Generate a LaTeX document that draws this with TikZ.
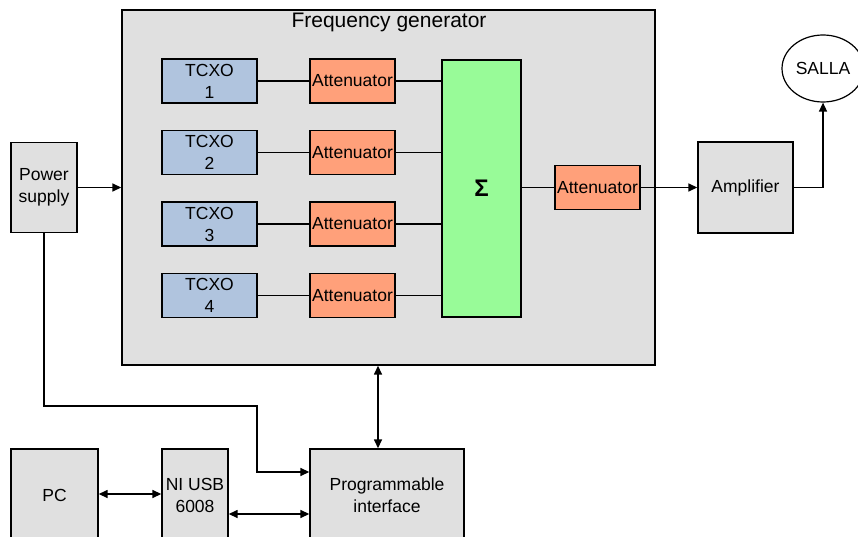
\documentclass[tikz,border=0pt]{standalone}
\usepackage{fontspec}
\setmainfont{Liberation Sans}
\usetikzlibrary{arrows.meta,shapes.geometric}
\definecolor{boxgray}{HTML}{E0E0E0}
\definecolor{tcxoblue}{HTML}{B0C4DE}
\definecolor{attsalmon}{HTML}{FFA07A}
\definecolor{sumgreen}{HTML}{98FB98}
\tikzset{
  blk/.style={draw=black, line width=1.4pt, rectangle, inner sep=0pt, align=center,
    font=\fontsize{17.5}{22}\selectfont},
  graybox/.style={blk, fill=boxgray},
  tcxobox/.style={blk, fill=tcxoblue, minimum width=95pt, minimum height=44pt},
  attbox/.style={blk, fill=attsalmon, minimum width=85pt, minimum height=44pt},
  conn/.style={line width=1.5pt},
  arr/.style={conn, -{Triangle[length=9pt,width=8pt]}},
  darr/.style={conn, {Triangle[length=9pt,width=8pt]}-{Triangle[length=9pt,width=8pt]}},
}
\begin{document}
\begin{tikzpicture}[x=1pt,y=-1pt]
\useasboundingbox (0,0) rectangle (858,537);
\clip (0,0) rectangle (858,537);
\fill[white] (0,0) rectangle (858,537);
% frequency generator
\node[graybox, minimum width=533pt, minimum height=355pt] (fg) at (388.5,187.5) {};
\node[font=\fontsize{21}{24}\selectfont, inner sep=0pt] (fgtitle) at (389,22) {Frequency generator};
% TCXO and attenuators
\foreach \i/\y in {1/81,2/152.5,3/224,4/295.5}{
  \node[tcxobox] (tcxo\i) at (209.5,\y) {TCXO\\\i};
  \node[attbox] (att\i) at (352.5,\y) {Attenuator};
}
\node[blk, fill=sumgreen, minimum width=79pt, minimum height=257pt,
  font=\fontsize{24}{26}\selectfont\bfseries] (sum) at (481.5,188.5) {Σ};
\node[attbox] (att5) at (597.5,187.5) {Attenuator};
\node[graybox, minimum width=95pt, minimum height=91pt] (amp) at (745.5,187.5) {Amplifier};
\node[blk, ellipse, fill=white, line width=1.2pt, minimum width=82pt, minimum height=67pt] (salla) at (823,68.5) {SALLA};
\node[graybox, minimum width=66pt, minimum height=90pt] (power) at (44,187.5) {Power\\supply};
\node[graybox, minimum width=154pt, minimum height=92pt] (prog) at (387,495) {Programmable\\interface};
\node[graybox, minimum width=87pt, minimum height=92pt] (pc) at (54.5,495) {PC};
\node[graybox, minimum width=66pt, minimum height=92pt] (ni) at (195,495) {NI USB\\6008};
% connectors inside generator
\foreach \i in {1,2,3,4}{
  \draw[conn] (tcxo\i.east) -- (att\i.west);
  \draw[conn] (att\i.east) -- (att\i.east -| sum.west);
}
\draw[conn] (att5.west -| sum.east) -- (att5.west);
\draw[arr] (att5.east) -- (amp.west);
\draw[arr] (amp.east) -| (salla.south);
\draw[arr] (power.east) -- (power.east -| fg.west);
% power to programmable interface
\coordinate (pbend) at (257,406);
\coordinate (y472) at (0,472);
\draw[arr] (power.south) |- (pbend) |- (prog.west |- y472);
% generator <-> programmable interface
\coordinate (x378) at (378,0);
\draw[darr] (fg.south -| x378) -- (prog.north -| x378);
% PC <-> NI, NI <-> prog
\coordinate (y494) at (0,494);
\coordinate (y514) at (0,514);
\draw[darr] (pc.east |- y494) -- (ni.west |- y494);
\draw[darr] (ni.east |- y514) -- (prog.west |- y514);
\end{tikzpicture}
\end{document}
